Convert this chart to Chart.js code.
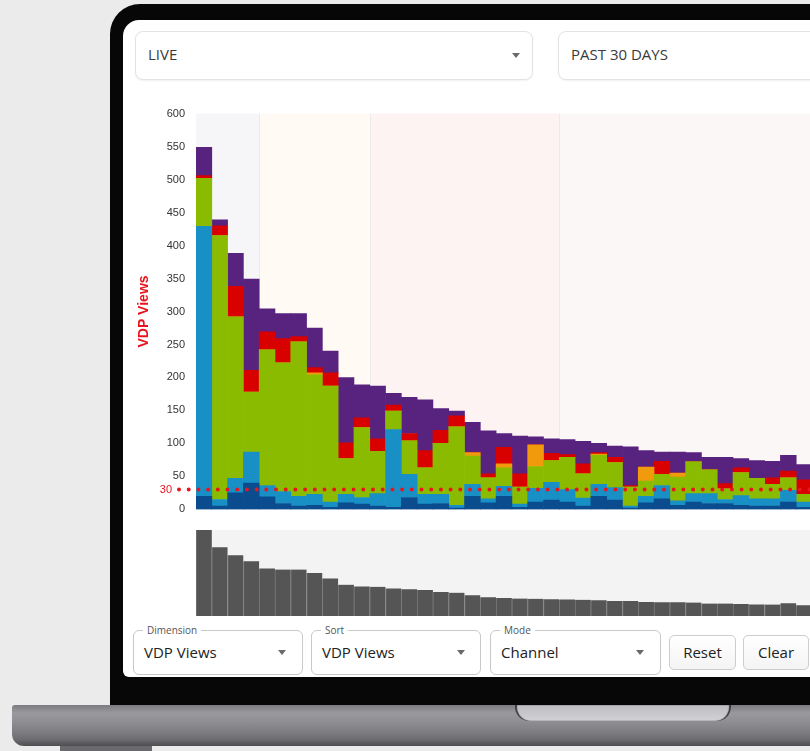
<!DOCTYPE html>
<html>
<head>
<meta charset="utf-8">
<script src="https://cdn.jsdelivr.net/npm/chart.js@4.4.0/dist/chart.umd.min.js"></script>
<style>
  html, body { margin: 0; padding: 0; }
  body { width: 810px; height: 751px; overflow: hidden; position: relative; background: #ebebeb; font-family: "Open Sans", sans-serif; }
  .abs { position: absolute; }
  .bezel { left: 110px; top: 4px; width: 760px; height: 701px; background: #070707; border-radius: 30px 0 0 0; }
  .screen { left: 123px; top: 20px; width: 740px; height: 657px; background: #fff; border-radius: 16px 0 0 6px; }
  .base { left: 12px; top: 705px; width: 830px; height: 41px; border-radius: 3px 0 0 12px;
          background: linear-gradient(#7c7c80 0px, #9a9a9e 8px, #909094 16px, #838387 24px, #6f6f73 34px, #4e4e52 41px); }
  .notch { left: 515px; top: 705px; width: 216px; height: 16px; border-radius: 0 0 14px 14px;
           background: linear-gradient(#bdbdc1, #d2d2d6); box-shadow: inset 2px 0 1px #3a3a3e, inset -2px 0 1px #3a3a3e; }
  .foot { left: 60px; top: 746px; width: 92px; height: 6px; background: #6a6a6e; }
  .sel { border: 1px solid #e3e3e3; border-radius: 8px; background: #fff; box-shadow: 0 1px 2px rgba(0,0,0,0.06); }
  .sel .txt { position: absolute; left: 12px; top: -1px; line-height: 47px; font-size: 15px; color: #3a3a3a; }
  .caret { position: absolute; width: 0; height: 0; border-left: 4.5px solid transparent; border-right: 4.5px solid transparent; border-top: 5px solid #6a6a6a; }
  .fs { top: 630px; height: 43px; border: 1px solid #c9c9c9; border-radius: 6px; background: #fff; }
  .fs .lbl { position: absolute; left: 9px; top: -8px; padding: 0 4px; background: #fff; font-size: 10px; color: #555; line-height: 14px; }
  .fs .txt { position: absolute; left: 10px; top: 0; line-height: 43px; font-size: 15px; color: #222; }
  .btn { top: 635px; height: 33px; border: 1px solid #cdcdcd; border-radius: 5px; background: linear-gradient(#fff, #f4f4f4);
         font-size: 15px; color: #222; line-height: 33px; text-align: center; }
  #mainWrap { left: 130px; top: 96px; width: 682px; height: 431px; }
  #navWrap { left: 196px; top: 530px; width: 616px; height: 86px; background: #f3f3f3; }
</style>
</head>
<body>
<div class="abs bezel"></div>
<div class="abs screen"></div>
<div class="abs base"></div>
<div class="abs notch"></div>
<div class="abs foot"></div>

<div class="abs sel" style="left:135px;top:31px;width:396px;height:47px;">
  <span class="txt">LIVE</span><span class="caret" style="left:376px;top:21px;"></span>
</div>
<div class="abs sel" style="left:558px;top:31px;width:300px;height:47px;">
  <span class="txt">PAST 30 DAYS</span>
</div>

<div class="abs" id="navWrap"><canvas id="navChart"></canvas></div>
<div class="abs" id="mainWrap"><canvas id="mainChart"></canvas></div>

<div class="abs fs" style="left:133px;width:168px;">
  <span class="lbl">Dimension</span><span class="txt">VDP Views</span><span class="caret" style="left:144px;top:19px;"></span>
</div>
<div class="abs fs" style="left:311px;width:168px;">
  <span class="lbl">Sort</span><span class="txt">VDP Views</span><span class="caret" style="left:145px;top:19px;"></span>
</div>
<div class="abs fs" style="left:490px;width:169px;">
  <span class="lbl">Mode</span><span class="txt">Channel</span><span class="caret" style="left:145px;top:19px;"></span>
</div>
<div class="abs btn" style="left:669px;width:65px;">Reset</div>
<div class="abs btn" style="left:743px;width:64px;">Clear</div>

<script>
// one bar per listing, sorted by VDP views
var labels = ["1","2","3","4","5","6","7","8","9","10","11","12","13","14","15","16","17","18","19","20",
              "21","22","23","24","25","26","27","28","29","30","31","32","33","34","35","36","37","38","39"];

// channel series, bottom to top
var navyVals   = [20,5,25,40,19,9,5,6,3,10,8,5,3,18,8,9,2,20,10,20,3,11,14,11,5,20,14,2,10,16,6,11,9,9,6,5,5,11,3];
var blueVals   = [409,10,22,47,17,18,15,17,8,13,10,19,118,35,15,14,4,18,6,15,5,21,27,19,12,18,19,3,10,20,7,13,15,6,15,11,11,18,8];
var greenVals  = [73,400,245,91,206,195,234,181,176,54,106,64,28,51,40,77,119,43,32,28,26,33,33,49,37,44,38,29,23,17,36,48,36,16,35,31,22,19,12];
var orangeVals = [0,0,0,0,0,0,0,3,0,0,0,0,0,0,0,0,0,5,0,6,0,33,0,0,0,2,0,0,21,0,6,0,0,0,0,0,0,0,0];
var redVals    = [4,15,46,33,27,37,8,8,20,24,15,19,9,11,26,20,17,0,6,25,20,0,11,4,15,2,8,2,0,20,0,0,0,8,7,0,10,10,22];
var purpleVals = [43,9,50,138,35,38,35,60,33,99,50,80,18,55,77,33,7,46,65,21,57,12,22,23,34,14,17,59,25,14,32,14,19,40,14,27,25,24,23];

var yTicks = [0,50,100,150,200,250,300,350,400,450,500,550,600];
var threshold = 30;

// background groups, as first/last bar index
var bandRanges = [[0,3],[4,10],[11,22],[23,38]];
var bandColors = ["#f6f6f8","#fffaf4","#fdf3f3","#fcf7f7"];

var totals = labels.map(function (l, i) {
    return navyVals[i] + blueVals[i] + greenVals[i] + orangeVals[i] + redVals[i] + purpleVals[i];
});

var tickFont = { family: "'Liberation Sans', Arial, sans-serif", size: 11 };

//shaded groups behind the bars
var bandPlugin = {
    id: "bands",
    beforeDatasetsDraw: function (chart) {
        var ctx = chart.ctx, area = chart.chartArea, x = chart.scales.x;
        var half = (x.getPixelForValue(1) - x.getPixelForValue(0)) / 2;
        ctx.save();
        bandRanges.forEach(function (r, i) {
            var x0 = x.getPixelForValue(r[0]) - half;
            var x1 = Math.min(x.getPixelForValue(r[1]) + half, area.right);
            ctx.fillStyle = bandColors[i];
            ctx.fillRect(x0, area.top, x1 - x0, area.bottom - area.top);
            if (i > 0) {
                ctx.fillStyle = "#ebebeb";
                ctx.fillRect(Math.round(x0), area.top, 1, area.bottom - area.top);
            }
        });
        ctx.restore();
    }
};

//red dotted threshold line with its label
var thresholdPlugin = {
    id: "threshold",
    afterDatasetsDraw: function (chart) {
        var ctx = chart.ctx, area = chart.chartArea;
        var y = chart.scales.y.getPixelForValue(threshold);
        ctx.save();
        ctx.strokeStyle = "#e8141e";
        ctx.lineWidth = 4;
        ctx.lineCap = "round";
        ctx.setLineDash([0, 9.7]);
        ctx.beginPath();
        ctx.moveTo(area.left - 17, y);
        ctx.lineTo(area.right, y);
        ctx.stroke();
        ctx.setLineDash([]);
        ctx.fillStyle = "#e8141e";
        ctx.font = "11px 'Liberation Sans', Arial, sans-serif";
        ctx.textAlign = "right";
        ctx.textBaseline = "middle";
        ctx.fillText(String(threshold), area.left - 24, y);
        ctx.restore();
    }
};

function series(label, data, color) {
    return { label: label, data: data, backgroundColor: color, borderWidth: 0,
             categoryPercentage: 1, barPercentage: 1 };
}

var mainChart = new Chart(document.getElementById("mainChart"), {
    type: "bar",
    data: {
        labels: labels,
        datasets: [
            series("Direct", navyVals, "#0b4c8e"),
            series("Search", blueVals, "#1890c6"),
            series("Marketplace", greenVals, "#8bbb00"),
            series("Social", orangeVals, "#f09a0c"),
            series("Email", redVals, "#d90000"),
            series("Other", purpleVals, "#58227f")
        ]
    },
    options: {
        responsive: true,
        maintainAspectRatio: false,
        animation: false,
        layout: { padding: 0 },
        plugins: { legend: { display: false }, tooltip: { enabled: false } },
        scales: {
            x: { stacked: true, display: false },
            y: {
                stacked: true,
                min: 0,
                max: 600,
                afterFit: function (scale) { scale.width = 66; },
                afterBuildTicks: function (scale) {
                    scale.ticks = yTicks.map(function (v) { return { value: v }; });
                },
                grid: { display: false, drawTicks: false },
                border: { display: false },
                ticks: { padding: 11, color: "#333", font: tickFont },
                title: {
                    display: true,
                    text: "VDP Views",
                    color: "#e8141e",
                    padding: { top: 6, bottom: 0 },
                    font: { family: "'Liberation Sans', Arial, sans-serif", size: 14, weight: "bold" }
                }
            }
        }
    },
    plugins: [bandPlugin, thresholdPlugin]
});

//overview strip below the main chart
var navChart = new Chart(document.getElementById("navChart"), {
    type: "bar",
    data: {
        labels: labels,
        datasets: [{
            data: totals,
            backgroundColor: "#555555",
            borderColor: "#7a7a7a",
            borderWidth: { left: 1, right: 0, top: 0, bottom: 0 },
            borderSkipped: false,
            categoryPercentage: 1,
            barPercentage: 1
        }]
    },
    options: {
        responsive: true,
        maintainAspectRatio: false,
        animation: false,
        layout: { padding: 0 },
        plugins: { legend: { display: false }, tooltip: { enabled: false } },
        scales: {
            x: { display: false },
            y: { display: false, min: 0, max: Math.max.apply(null, totals) }
        }
    }
});
</script>
</body>
</html>
